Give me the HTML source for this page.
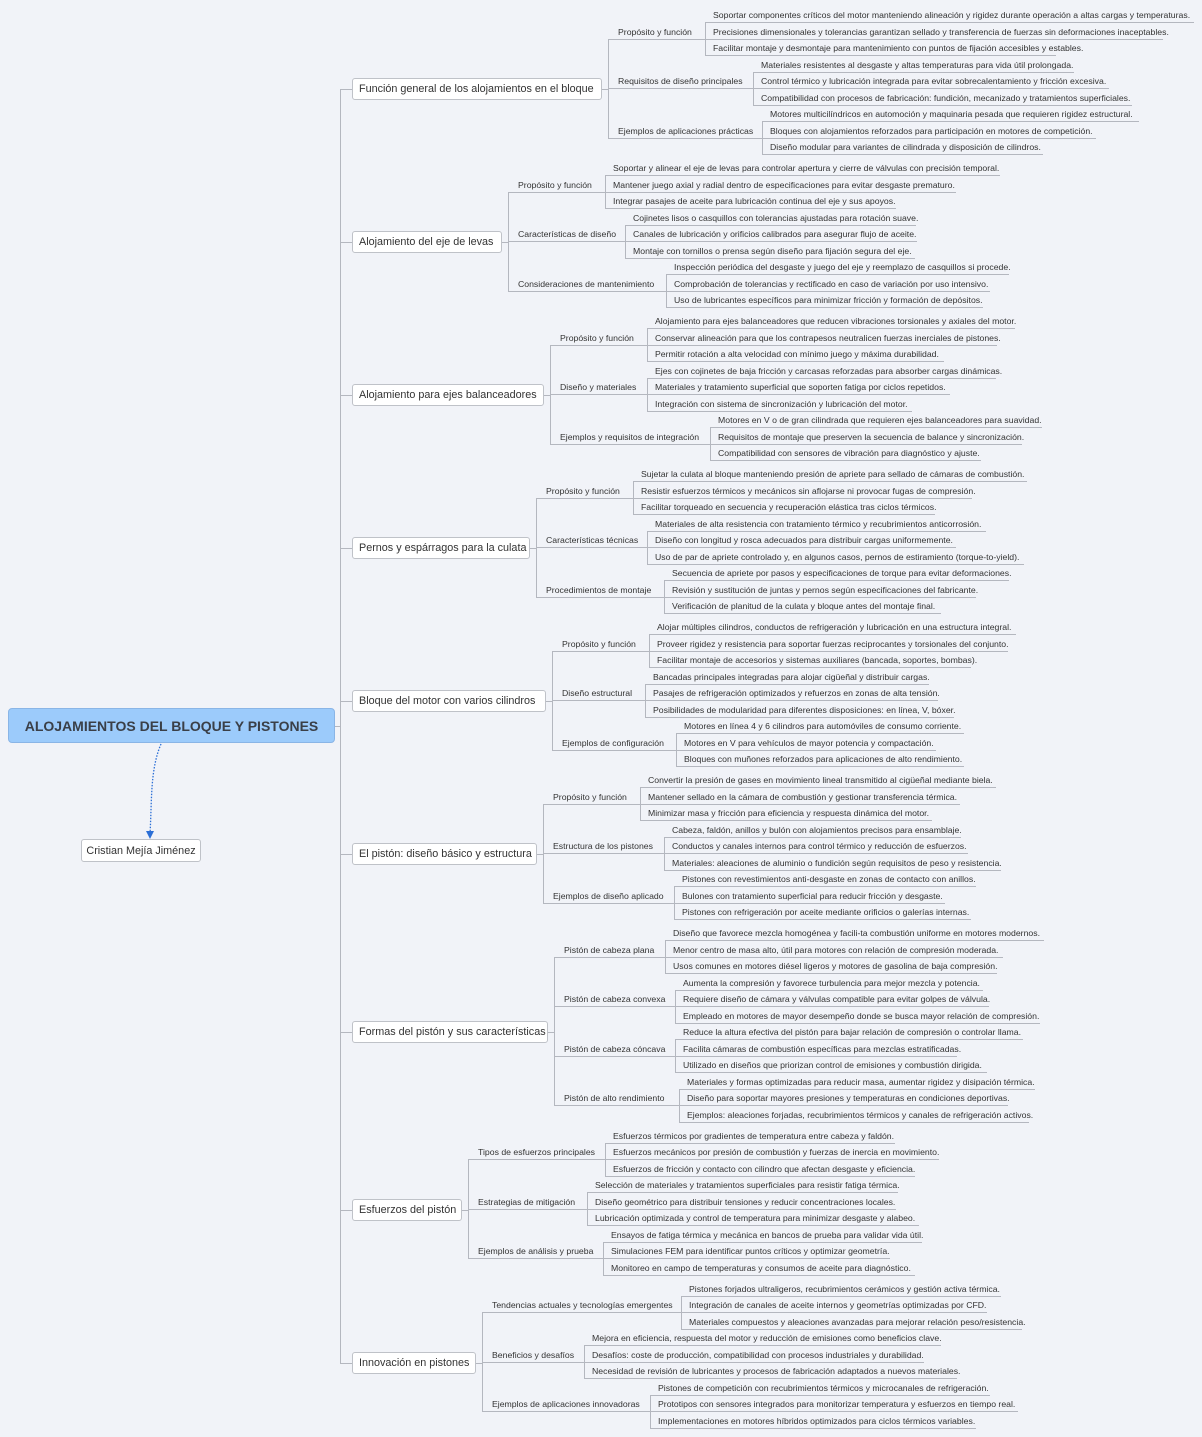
<!DOCTYPE html>
<html><head><meta charset="utf-8"><style>
body{margin:0;width:1202px;height:1437px;background:#f1f3f8;position:relative;overflow:hidden;font-family:"Liberation Sans","DejaVu Sans",sans-serif;color:#333}
.l,.m{position:absolute;height:16px;box-sizing:border-box;border-bottom:1px solid #b4b7bf;font-size:8.7px;line-height:16px;white-space:nowrap;padding-left:8px}
.m{padding-left:10px}
.v{position:absolute;width:0;border-left:1px solid #b4b7bf}
.h{position:absolute;height:0;border-top:1px solid #b4b7bf}
.b{position:absolute;left:352px;height:22px;box-sizing:border-box;border:1px solid #bfc2c8;border-radius:3px;background:#fff;font-size:10.8px;line-height:21px;padding-left:6px;white-space:nowrap}
</style></head><body>
<div class="v" style="left:340px;top:89px;height:1274px"></div>
<div class="h" style="left:335px;top:726px;width:5px"></div>
<div style="position:absolute;left:8px;top:708px;width:327px;height:35px;box-sizing:border-box;background:#9ccbfb;border:1px solid #8ab5e6;border-radius:4px;text-align:center;font-weight:bold;font-size:14px;line-height:34px;color:#3a3f47">ALOJAMIENTOS DEL BLOQUE Y PISTONES</div>
<div style="position:absolute;left:81px;top:839px;width:120px;height:23px;box-sizing:border-box;background:#fff;border:1px solid #bfc2c8;border-radius:3px;font-size:10.8px;line-height:22px;text-align:center">Cristian Mejía Jiménez</div>
<svg style="position:absolute;left:0;top:0" width="400" height="900"><path d="M161 744 C150 770,152 800,150 834" fill="none" stroke="#2c6fd6" stroke-width="1.3" stroke-dasharray="1.5,1.5"/><path d="M146 831 L150 839 L154 831 Z" fill="#2c6fd6"/></svg>

<!-- G1 -->
<div class="h" style="left:340px;top:89px;width:12px"></div>
<div class="b" style="top:78px;width:250px">Función general de los alojamientos en el bloque</div>
<div class="h" style="left:602px;top:89px;width:6px"></div>
<div class="v" style="left:608px;top:39.5px;height:99px"></div>
<div class="m" style="left:608px;top:23.5px;width:97px">Propósito y función</div>
<div class="m" style="left:608px;top:73px;width:145px">Requisitos de diseño principales</div>
<div class="m" style="left:608px;top:122.5px;width:154px">Ejemplos de aplicaciones prácticas</div>
<div class="v" style="left:705px;top:23px;height:33px"></div>
<div class="l" style="left:705px;top:7px;width:489px">Soportar componentes críticos del motor manteniendo alineación y rigidez durante operación a altas cargas y temperaturas.</div>
<div class="l" style="left:705px;top:23.5px;width:458px">Precisiones dimensionales y tolerancias garantizan sellado y transferencia de fuerzas sin deformaciones inaceptables.</div>
<div class="l" style="left:705px;top:40px;width:351px">Facilitar montaje y desmontaje para mantenimiento con puntos de fijación accesibles y estables.</div>
<div class="v" style="left:753px;top:72.5px;height:33px"></div>
<div class="l" style="left:753px;top:56.5px;width:321px">Materiales resistentes al desgaste y altas temperaturas para vida útil prolongada.</div>
<div class="l" style="left:753px;top:73px;width:356px">Control térmico y lubricación integrada para evitar sobrecalentamiento y fricción excesiva.</div>
<div class="l" style="left:753px;top:89.5px;width:379px">Compatibilidad con procesos de fabricación: fundición, mecanizado y tratamientos superficiales.</div>
<div class="v" style="left:762px;top:122px;height:33px"></div>
<div class="l" style="left:762px;top:106px;width:377px">Motores multicilíndricos en automoción y maquinaria pesada que requieren rigidez estructural.</div>
<div class="l" style="left:762px;top:122.5px;width:334px">Bloques con alojamientos reforzados para participación en motores de competición.</div>
<div class="l" style="left:762px;top:139px;width:281px">Diseño modular para variantes de cilindrada y disposición de cilindros.</div>

<!-- G2 -->
<div class="h" style="left:340px;top:242px;width:12px"></div>
<div class="b" style="top:231px;width:150px">Alojamiento del eje de levas</div>
<div class="h" style="left:502px;top:242px;width:6px"></div>
<div class="v" style="left:508px;top:192.5px;height:99px"></div>
<div class="m" style="left:508px;top:176.5px;width:97px">Propósito y función</div>
<div class="m" style="left:508px;top:226px;width:117px">Características de diseño</div>
<div class="m" style="left:508px;top:275.5px;width:158px">Consideraciones de mantenimiento</div>
<div class="v" style="left:605px;top:176px;height:33px"></div>
<div class="l" style="left:605px;top:160px;width:395px">Soportar y alinear el eje de levas para controlar apertura y cierre de válvulas con precisión temporal.</div>
<div class="l" style="left:605px;top:176.5px;width:351px">Mantener juego axial y radial dentro de especificaciones para evitar desgaste prematuro.</div>
<div class="l" style="left:605px;top:193px;width:291px">Integrar pasajes de aceite para lubricación continua del eje y sus apoyos.</div>
<div class="v" style="left:625px;top:225.5px;height:33px"></div>
<div class="l" style="left:625px;top:209.5px;width:291px">Cojinetes lisos o casquillos con tolerancias ajustadas para rotación suave.</div>
<div class="l" style="left:625px;top:226px;width:292px">Canales de lubricación y orificios calibrados para asegurar flujo de aceite.</div>
<div class="l" style="left:625px;top:242.5px;width:290px">Montaje con tornillos o prensa según diseño para fijación segura del eje.</div>
<div class="v" style="left:666px;top:275px;height:33px"></div>
<div class="l" style="left:666px;top:259px;width:343px">Inspección periódica del desgaste y juego del eje y reemplazo de casquillos si procede.</div>
<div class="l" style="left:666px;top:275.5px;width:324px">Comprobación de tolerancias y rectificado en caso de variación por uso intensivo.</div>
<div class="l" style="left:666px;top:292px;width:317px">Uso de lubricantes específicos para minimizar fricción y formación de depósitos.</div>

<!-- G3 -->
<div class="h" style="left:340px;top:395px;width:12px"></div>
<div class="b" style="top:384px;width:192px">Alojamiento para ejes balanceadores</div>
<div class="h" style="left:544px;top:395px;width:6px"></div>
<div class="v" style="left:550px;top:345.5px;height:99px"></div>
<div class="m" style="left:550px;top:329.5px;width:97px">Propósito y función</div>
<div class="m" style="left:550px;top:379px;width:97px">Diseño y materiales</div>
<div class="m" style="left:550px;top:428.5px;width:160px">Ejemplos y requisitos de integración</div>
<div class="v" style="left:647px;top:329px;height:33px"></div>
<div class="l" style="left:647px;top:313px;width:368px">Alojamiento para ejes balanceadores que reducen vibraciones torsionales y axiales del motor.</div>
<div class="l" style="left:647px;top:329.5px;width:350px">Conservar alineación para que los contrapesos neutralicen fuerzas inerciales de pistones.</div>
<div class="l" style="left:647px;top:346px;width:297px">Permitir rotación a alta velocidad con mínimo juego y máxima durabilidad.</div>
<div class="v" style="left:647px;top:378.5px;height:33px"></div>
<div class="l" style="left:647px;top:362.5px;width:349px">Ejes con cojinetes de baja fricción y carcasas reforzadas para absorber cargas dinámicas.</div>
<div class="l" style="left:647px;top:379px;width:303px">Materiales y tratamiento superficial que soporten fatiga por ciclos repetidos.</div>
<div class="l" style="left:647px;top:395.5px;width:265px">Integración con sistema de sincronización y lubricación del motor.</div>
<div class="v" style="left:710px;top:428px;height:33px"></div>
<div class="l" style="left:710px;top:412px;width:332px">Motores en V o de gran cilindrada que requieren ejes balanceadores para suavidad.</div>
<div class="l" style="left:710px;top:428.5px;width:312px">Requisitos de montaje que preserven la secuencia de balance y sincronización.</div>
<div class="l" style="left:710px;top:445px;width:271px">Compatibilidad con sensores de vibración para diagnóstico y ajuste.</div>

<!-- G4 -->
<div class="h" style="left:340px;top:548px;width:12px"></div>
<div class="b" style="top:537px;width:178px">Pernos y espárragos para la culata</div>
<div class="h" style="left:530px;top:548px;width:6px"></div>
<div class="v" style="left:536px;top:498.5px;height:99px"></div>
<div class="m" style="left:536px;top:482.5px;width:97px">Propósito y función</div>
<div class="m" style="left:536px;top:532px;width:111px">Características técnicas</div>
<div class="m" style="left:536px;top:581.5px;width:128px">Procedimientos de montaje</div>
<div class="v" style="left:633px;top:482px;height:33px"></div>
<div class="l" style="left:633px;top:466px;width:394px">Sujetar la culata al bloque manteniendo presión de apriete para sellado de cámaras de combustión.</div>
<div class="l" style="left:633px;top:482.5px;width:339px">Resistir esfuerzos térmicos y mecánicos sin aflojarse ni provocar fugas de compresión.</div>
<div class="l" style="left:633px;top:499px;width:302px">Facilitar torqueado en secuencia y recuperación elástica tras ciclos térmicos.</div>
<div class="v" style="left:647px;top:531.5px;height:33px"></div>
<div class="l" style="left:647px;top:515.5px;width:339px">Materiales de alta resistencia con tratamiento térmico y recubrimientos anticorrosión.</div>
<div class="l" style="left:647px;top:532px;width:309px">Diseño con longitud y rosca adecuados para distribuir cargas uniformemente.</div>
<div class="l" style="left:647px;top:548.5px;width:377px">Uso de par de apriete controlado y, en algunos casos, pernos de estiramiento (torque-to-yield).</div>
<div class="v" style="left:664px;top:581px;height:33px"></div>
<div class="l" style="left:664px;top:565px;width:345px">Secuencia de apriete por pasos y especificaciones de torque para evitar deformaciones.</div>
<div class="l" style="left:664px;top:581.5px;width:312px">Revisión y sustitución de juntas y pernos según especificaciones del fabricante.</div>
<div class="l" style="left:664px;top:598px;width:277px">Verificación de planitud de la culata y bloque antes del montaje final.</div>

<!-- G5 -->
<div class="h" style="left:340px;top:701px;width:12px"></div>
<div class="b" style="top:690px;width:194px">Bloque del motor con varios cilindros</div>
<div class="h" style="left:546px;top:701px;width:6px"></div>
<div class="v" style="left:552px;top:651.5px;height:99px"></div>
<div class="m" style="left:552px;top:635.5px;width:97px">Propósito y función</div>
<div class="m" style="left:552px;top:685px;width:93px">Diseño estructural</div>
<div class="m" style="left:552px;top:734.5px;width:124px">Ejemplos de configuración</div>
<div class="v" style="left:649px;top:635px;height:33px"></div>
<div class="l" style="left:649px;top:619px;width:367px">Alojar múltiples cilindros, conductos de refrigeración y lubricación en una estructura integral.</div>
<div class="l" style="left:649px;top:635.5px;width:359px">Proveer rigidez y resistencia para soportar fuerzas reciprocantes y torsionales del conjunto.</div>
<div class="l" style="left:649px;top:652px;width:322px">Facilitar montaje de accesorios y sistemas auxiliares (bancada, soportes, bombas).</div>
<div class="v" style="left:645px;top:684.5px;height:33px"></div>
<div class="l" style="left:645px;top:668.5px;width:284px">Bancadas principales integradas para alojar cigüeñal y distribuir cargas.</div>
<div class="l" style="left:645px;top:685px;width:293px">Pasajes de refrigeración optimizados y refuerzos en zonas de alta tensión.</div>
<div class="l" style="left:645px;top:701.5px;width:309px">Posibilidades de modularidad para diferentes disposiciones: en línea, V, bóxer.</div>
<div class="v" style="left:676px;top:734px;height:33px"></div>
<div class="l" style="left:676px;top:718px;width:288px">Motores en línea 4 y 6 cilindros para automóviles de consumo corriente.</div>
<div class="l" style="left:676px;top:734.5px;width:260px">Motores en V para vehículos de mayor potencia y compactación.</div>
<div class="l" style="left:676px;top:751px;width:288px">Bloques con muñones reforzados para aplicaciones de alto rendimiento.</div>

<!-- G6 -->
<div class="h" style="left:340px;top:854px;width:12px"></div>
<div class="b" style="top:843px;width:185px">El pistón: diseño básico y estructura</div>
<div class="h" style="left:537px;top:854px;width:6px"></div>
<div class="v" style="left:543px;top:804.5px;height:99px"></div>
<div class="m" style="left:543px;top:788.5px;width:97px">Propósito y función</div>
<div class="m" style="left:543px;top:838px;width:121px">Estructura de los pistones</div>
<div class="m" style="left:543px;top:887.5px;width:131px">Ejemplos de diseño aplicado</div>
<div class="v" style="left:640px;top:788px;height:33px"></div>
<div class="l" style="left:640px;top:772px;width:356px">Convertir la presión de gases en movimiento lineal transmitido al cigüeñal mediante biela.</div>
<div class="l" style="left:640px;top:788.5px;width:320px">Mantener sellado en la cámara de combustión y gestionar transferencia térmica.</div>
<div class="l" style="left:640px;top:805px;width:292px">Minimizar masa y fricción para eficiencia y respuesta dinámica del motor.</div>
<div class="v" style="left:664px;top:837.5px;height:33px"></div>
<div class="l" style="left:664px;top:821.5px;width:297px">Cabeza, faldón, anillos y bulón con alojamientos precisos para ensamblaje.</div>
<div class="l" style="left:664px;top:838px;width:304px">Conductos y canales internos para control térmico y reducción de esfuerzos.</div>
<div class="l" style="left:664px;top:854.5px;width:337px">Materiales: aleaciones de aluminio o fundición según requisitos de peso y resistencia.</div>
<div class="v" style="left:674px;top:887px;height:33px"></div>
<div class="l" style="left:674px;top:871px;width:302px">Pistones con revestimientos anti-desgaste en zonas de contacto con anillos.</div>
<div class="l" style="left:674px;top:887.5px;width:271px">Bulones con tratamiento superficial para reducir fricción y desgaste.</div>
<div class="l" style="left:674px;top:904px;width:297px">Pistones con refrigeración por aceite mediante orificios o galerías internas.</div>

<!-- G7 -->
<div class="h" style="left:340px;top:1032px;width:12px"></div>
<div class="b" style="top:1021px;width:196px">Formas del pistón y sus características</div>
<div class="h" style="left:548px;top:1032px;width:6px"></div>
<div class="v" style="left:554px;top:957.5px;height:148.5px"></div>
<div class="m" style="left:554px;top:941.5px;width:111px">Pistón de cabeza plana</div>
<div class="m" style="left:554px;top:991px;width:121px">Pistón de cabeza convexa</div>
<div class="m" style="left:554px;top:1040.5px;width:121px">Pistón de cabeza cóncava</div>
<div class="m" style="left:554px;top:1090px;width:125px">Pistón de alto rendimiento</div>
<div class="v" style="left:665px;top:941px;height:33px"></div>
<div class="l" style="left:665px;top:925px;width:379px">Diseño que favorece mezcla homogénea y facili-ta combustión uniforme en motores modernos.</div>
<div class="l" style="left:665px;top:941.5px;width:338px">Menor centro de masa alto, útil para motores con relación de compresión moderada.</div>
<div class="l" style="left:665px;top:958px;width:332px">Usos comunes en motores diésel ligeros y motores de gasolina de baja compresión.</div>
<div class="v" style="left:675px;top:990.5px;height:33px"></div>
<div class="l" style="left:675px;top:974.5px;width:308px">Aumenta la compresión y favorece turbulencia para mejor mezcla y potencia.</div>
<div class="l" style="left:675px;top:991px;width:314px">Requiere diseño de cámara y válvulas compatible para evitar golpes de válvula.</div>
<div class="l" style="left:675px;top:1007.5px;width:365px">Empleado en motores de mayor desempeño donde se busca mayor relación de compresión.</div>
<div class="v" style="left:675px;top:1040px;height:33px"></div>
<div class="l" style="left:675px;top:1024px;width:348px">Reduce la altura efectiva del pistón para bajar relación de compresión o controlar llama.</div>
<div class="l" style="left:675px;top:1040.5px;width:282px">Facilita cámaras de combustión específicas para mezclas estratificadas.</div>
<div class="l" style="left:675px;top:1057px;width:312px">Utilizado en diseños que priorizan control de emisiones y combustión dirigida.</div>
<div class="v" style="left:679px;top:1089.5px;height:33px"></div>
<div class="l" style="left:679px;top:1073.5px;width:356px">Materiales y formas optimizadas para reducir masa, aumentar rigidez y disipación térmica.</div>
<div class="l" style="left:679px;top:1090px;width:329px">Diseño para soportar mayores presiones y temperaturas en condiciones deportivas.</div>
<div class="l" style="left:679px;top:1106.5px;width:350px">Ejemplos: aleaciones forjadas, recubrimientos térmicos y canales de refrigeración activos.</div>

<!-- G8 -->
<div class="h" style="left:340px;top:1210px;width:12px"></div>
<div class="b" style="top:1199px;width:110px">Esfuerzos del pistón</div>
<div class="h" style="left:462px;top:1210px;width:6px"></div>
<div class="v" style="left:468px;top:1160px;height:99px"></div>
<div class="m" style="left:468px;top:1144px;width:137px">Tipos de esfuerzos principales</div>
<div class="m" style="left:468px;top:1193.5px;width:119px">Estrategias de mitigación</div>
<div class="m" style="left:468px;top:1243px;width:135px">Ejemplos de análisis y prueba</div>
<div class="v" style="left:605px;top:1143.5px;height:33px"></div>
<div class="l" style="left:605px;top:1127.5px;width:290px">Esfuerzos térmicos por gradientes de temperatura entre cabeza y faldón.</div>
<div class="l" style="left:605px;top:1144px;width:334px">Esfuerzos mecánicos por presión de combustión y fuerzas de inercia en movimiento.</div>
<div class="l" style="left:605px;top:1160.5px;width:310px">Esfuerzos de fricción y contacto con cilindro que afectan desgaste y eficiencia.</div>
<div class="v" style="left:587px;top:1193px;height:33px"></div>
<div class="l" style="left:587px;top:1177px;width:311px">Selección de materiales y tratamientos superficiales para resistir fatiga térmica.</div>
<div class="l" style="left:587px;top:1193.5px;width:309px">Diseño geométrico para distribuir tensiones y reducir concentraciones locales.</div>
<div class="l" style="left:587px;top:1210px;width:332px">Lubricación optimizada y control de temperatura para minimizar desgaste y alabeo.</div>
<div class="v" style="left:603px;top:1242.5px;height:33px"></div>
<div class="l" style="left:603px;top:1226.5px;width:319px">Ensayos de fatiga térmica y mecánica en bancos de prueba para validar vida útil.</div>
<div class="l" style="left:603px;top:1243px;width:287px">Simulaciones FEM para identificar puntos críticos y optimizar geometría.</div>
<div class="l" style="left:603px;top:1259.5px;width:312px">Monitoreo en campo de temperaturas y consumos de aceite para diagnóstico.</div>

<!-- G9 -->
<div class="h" style="left:340px;top:1363px;width:12px"></div>
<div class="b" style="top:1352px;width:124px">Innovación en pistones</div>
<div class="h" style="left:476px;top:1363px;width:6px"></div>
<div class="v" style="left:482px;top:1313px;height:99px"></div>
<div class="m" style="left:482px;top:1297px;width:199px">Tendencias actuales y tecnologías emergentes</div>
<div class="m" style="left:482px;top:1346.5px;width:102px">Beneficios y desafíos</div>
<div class="m" style="left:482px;top:1396px;width:168px">Ejemplos de aplicaciones innovadoras</div>
<div class="v" style="left:681px;top:1296.5px;height:33px"></div>
<div class="l" style="left:681px;top:1280.5px;width:320px">Pistones forjados ultraligeros, recubrimientos cerámicos y gestión activa térmica.</div>
<div class="l" style="left:681px;top:1297px;width:306px">Integración de canales de aceite internos y geometrías optimizadas por CFD.</div>
<div class="l" style="left:681px;top:1313.5px;width:341px">Materiales compuestos y aleaciones avanzadas para mejorar relación peso/resistencia.</div>
<div class="v" style="left:584px;top:1346px;height:33px"></div>
<div class="l" style="left:584px;top:1330px;width:357px">Mejora en eficiencia, respuesta del motor y reducción de emisiones como beneficios clave.</div>
<div class="l" style="left:584px;top:1346.5px;width:340px">Desafíos: coste de producción, compatibilidad con procesos industriales y durabilidad.</div>
<div class="l" style="left:584px;top:1363px;width:373px">Necesidad de revisión de lubricantes y procesos de fabricación adaptados a nuevos materiales.</div>
<div class="v" style="left:650px;top:1395.5px;height:33px"></div>
<div class="l" style="left:650px;top:1379.5px;width:340px">Pistones de competición con recubrimientos térmicos y microcanales de refrigeración.</div>
<div class="l" style="left:650px;top:1396px;width:368px">Prototipos con sensores integrados para monitorizar temperatura y esfuerzos en tiempo real.</div>
<div class="l" style="left:650px;top:1412.5px;width:326px">Implementaciones en motores híbridos optimizados para ciclos térmicos variables.</div>
</body></html>
